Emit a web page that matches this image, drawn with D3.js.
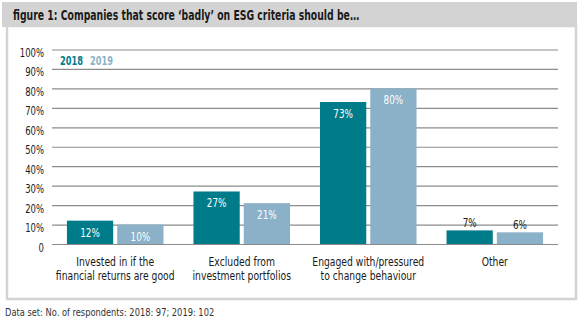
<!DOCTYPE html>
<html>
<head>
<meta charset="utf-8">
<script src="https://cdn.jsdelivr.net/npm/d3@7"></script>
<style>
  body { margin: 0; background: #fff; }
  svg text { font-family: "DejaVu Sans", sans-serif; }
</style>
</head>
<body>
<div id="chart"></div>
<script>
// Dati
var categorie = [
  ["Invested in if the", "financial returns are good"],
  ["Excluded from", "investment portfolios"],
  ["Engaged with/pressured", "to change behaviour"],
  ["Other"]
];
var anni = ["2018", "2019"];
var valori2018 = [12, 27, 73, 7];
var valori2019 = [10, 21, 80, 6];
var tickY = [0, 10, 20, 30, 40, 50, 60, 70, 80, 90, 100];

var colori = { "2018": "#007b8a", "2019": "#8ab1c7" };

var W = 580, H = 321;
var svg = d3.select("#chart").append("svg")
  .attr("width", W).attr("height", H);

// Testo "stretto": il font condensato non c'e', quindi comprimo in orizzontale
function testo(g, x, y, k) {
  return g.append("text")
    .attr("transform", "translate(" + x + "," + y + ") scale(" + k + ",1)");
}

// Intestazione grigia e cornice
svg.append("rect").attr("x", 2).attr("y", 2).attr("width", 575).attr("height", 25)
  .attr("fill", "#d3d3d3");
testo(svg, 13, 20, 0.665)
  .text("figure 1: Companies that score \u2018badly\u2019 on ESG criteria should be\u2026")
  .style("font-size", "14px").style("font-weight", "bold").attr("fill", "#1a1a1a");
svg.append("rect").attr("x", 7).attr("y", 26).attr("width", 569).attr("height", 273)
  .attr("fill", "none").attr("stroke", "#d3d3d3").attr("stroke-width", 2.5);

// Scale
var margin = { left: 52, right: 22 };
var x0 = d3.scaleBand()
  .domain(d3.range(categorie.length))
  .range([margin.left, W - margin.right])
  .paddingInner(0.237).paddingOuter(0.118);
var x1 = d3.scaleBand()
  .domain(anni)
  .range([0, x0.bandwidth()])
  .padding(0.08).paddingOuter(0);
var y = d3.scaleLinear().domain([0, 100]).range([244, 49.5]);

// Griglia e asse Y
var asseY = svg.append("g")
  .attr("transform", "translate(" + margin.left + ",0)")
  .call(d3.axisLeft(y).tickValues(tickY).tickSize(-(W - margin.left - margin.right))
    .tickFormat(function (d) { return d === 0 ? "0" : d + "%"; }));
asseY.select(".domain").remove();
asseY.selectAll(".tick line").attr("stroke", "#8c8c8c").attr("stroke-width", 1.2);
asseY.selectAll(".tick text")
  .attr("x", -8 / 0.68).attr("dy", "0.56em")
  .attr("transform", "scale(0.68,1)")
  .style("font-size", "12.5px").attr("fill", "#1a1a1a");

// Legenda
testo(svg, 60, 65, 0.72).text("2018")
  .style("font-size", "11.5px").style("font-weight", "bold").attr("fill", colori["2018"]);
testo(svg, 90, 65, 0.72).text("2019")
  .style("font-size", "11.5px").style("font-weight", "bold").attr("fill", colori["2019"]);

// Barre
var dati = categorie.map(function (c, i) {
  return [{ anno: "2018", v: valori2018[i] }, { anno: "2019", v: valori2019[i] }];
});
var gruppi = svg.selectAll(".gruppo").data(dati).enter().append("g")
  .attr("transform", function (d, i) { return "translate(" + x0(i) + ",0)"; });

gruppi.selectAll("rect").data(function (d) { return d; }).enter().append("rect")
  .attr("x", function (d) { return x1(d.anno); })
  .attr("y", function (d) { return y(d.v); })
  .attr("width", x1.bandwidth())
  .attr("height", function (d) { return y(0) - y(d.v); })
  .attr("fill", function (d) { return colori[d.anno]; });

gruppi.selectAll(".valore").data(function (d) { return d; }).enter().append("text")
  .attr("transform", function (d) {
    var cx = x1(d.anno) + x1.bandwidth() / 2;
    var cy = d.v < 10 ? y(d.v) - 3 : y(d.v) + 16;
    return "translate(" + cx + "," + cy + ") scale(0.68,1)";
  })
  .attr("text-anchor", "middle")
  .style("font-size", "13px")
  .attr("fill", function (d) { return d.v < 10 ? "#1a1a1a" : "#fff"; })
  .text(function (d) { return d.v + "%"; });

// Etichette categorie
categorie.forEach(function (righe, i) {
  var t = testo(svg, x0(i) + x0.bandwidth() / 2, 265.5, 0.71)
    .attr("text-anchor", "middle")
    .style("font-size", "13px").attr("fill", "#1a1a1a");
  righe.forEach(function (r, k) {
    t.append("tspan").attr("x", 0).attr("dy", k === 0 ? 0 : 15).text(r);
  });
});

// Nota
testo(svg, 5, 316, 0.79)
  .text("Data set: No. of respondents: 2018: 97; 2019: 102")
  .style("font-size", "10.5px").attr("fill", "#333");
</script>
</body>
</html>
